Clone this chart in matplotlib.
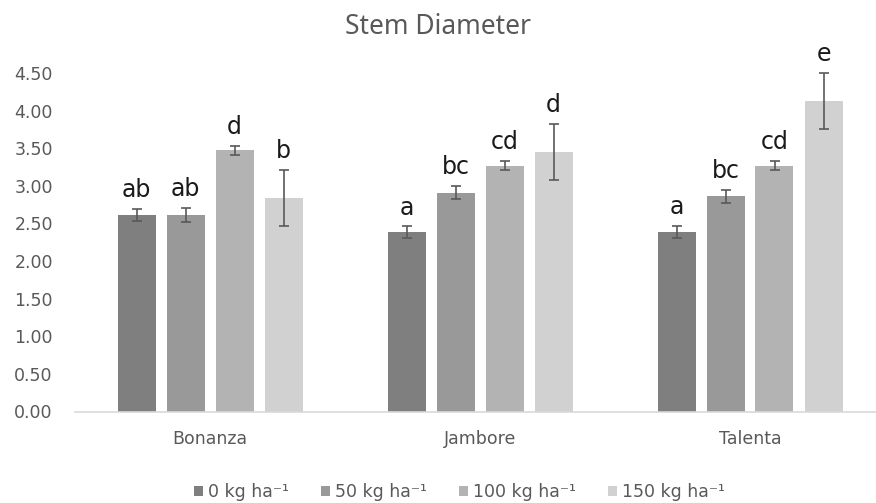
import matplotlib
matplotlib.use("Agg")
import matplotlib.pyplot as plt
import numpy as np

categories = ["Bonanza", "Jambore", "Talenta"]
series_labels = ["0 kg ha\u207b\u00b9", "50 kg ha\u207b\u00b9", "100 kg ha\u207b\u00b9", "150 kg ha\u207b\u00b9"]

mean_0 = [2.61, 2.38, 2.39]
mean_50 = [2.61, 2.91, 2.86]
mean_100 = [3.47, 3.27, 3.27]
mean_150 = [2.84, 3.45, 4.13]

err_0 = [0.08, 0.08, 0.08]
err_50 = [0.09, 0.09, 0.09]
err_100 = [0.06, 0.065, 0.065]
err_150 = [0.37, 0.37, 0.37]

letters_0 = ["ab", "a", "a"]
letters_50 = ["ab", "bc", "bc"]
letters_100 = ["d", "cd", "cd"]
letters_150 = ["b", "d", "e"]

yticks = [0.0, 0.5, 1.0, 1.5, 2.0, 2.5, 3.0, 3.5, 4.0, 4.5]

means = [mean_0, mean_50, mean_100, mean_150]
errs = [err_0, err_50, err_100, err_150]
letters = [letters_0, letters_50, letters_100, letters_150]
colors = ["#7f7f7f", "#999999", "#b3b3b3", "#d1d1d1"]

plt.rcParams["font.family"] = ["DejaVu Sans"]

fig = plt.figure(figsize=(8.76, 5.03), dpi=100)
ax = fig.add_axes([75 / 876, 91.5 / 503, 801 / 876, 338.5 / 503])

x = np.arange(len(categories))
pitch = 49 / 270
width = 38 / 270
handles = []
for i in range(4):
    pos = x + (i - 1.5) * pitch
    b = ax.bar(pos, means[i], width, color=colors[i], label=series_labels[i], zorder=2)
    handles.append(b)
    ax.errorbar(pos, means[i], yerr=errs[i], fmt="none", ecolor="#595959",
                elinewidth=1.2, capsize=3.5, capthick=1.2, zorder=3, clip_on=False)
    for xp, m, e, t in zip(pos, means[i], errs[i], letters[i]):
        ax.annotate(t, (xp, m + e), xytext=(0, 5), textcoords="offset points",
                    ha="center", va="bottom", fontsize=17, color="#1a1a1a",
                    annotation_clip=False)

ax.set_xlim(-0.5, 2.5 - 9 / 270)
ax.set_ylim(0, 4.5)
ax.set_yticks(yticks)
ax.set_yticklabels([f"{v:.2f}" for v in yticks])
ax.set_xticks(x)
ax.set_xticklabels(categories)
ax.tick_params(axis="y", length=0, pad=16, labelsize=12.5, labelcolor="#595959")
ax.tick_params(axis="x", length=0, pad=13, labelsize=12.5, labelcolor="#595959")
for s in ["top", "right", "left"]:
    ax.spines[s].set_visible(False)
ax.spines["bottom"].set_color("#d9d9d9")
ax.spines["bottom"].set_linewidth(1.2)

fig.text(0.5, 1 - 34 / 503, "Stem Diameter", ha="center", va="baseline", fontsize=19,
         color="#595959", family=["Noto Sans", "DejaVu Sans"])

fig.legend(handles=handles, labels=series_labels, loc="lower center", bbox_to_anchor=(459.5 / 876, 0.004),
           ncol=4, frameon=False, fontsize=12.5, labelcolor="#595959",
           borderpad=0, borderaxespad=0,
           handlelength=0.55, handleheight=0.55, handletextpad=0.3, columnspacing=1.8)

fig.savefig("out.png", dpi=100)
